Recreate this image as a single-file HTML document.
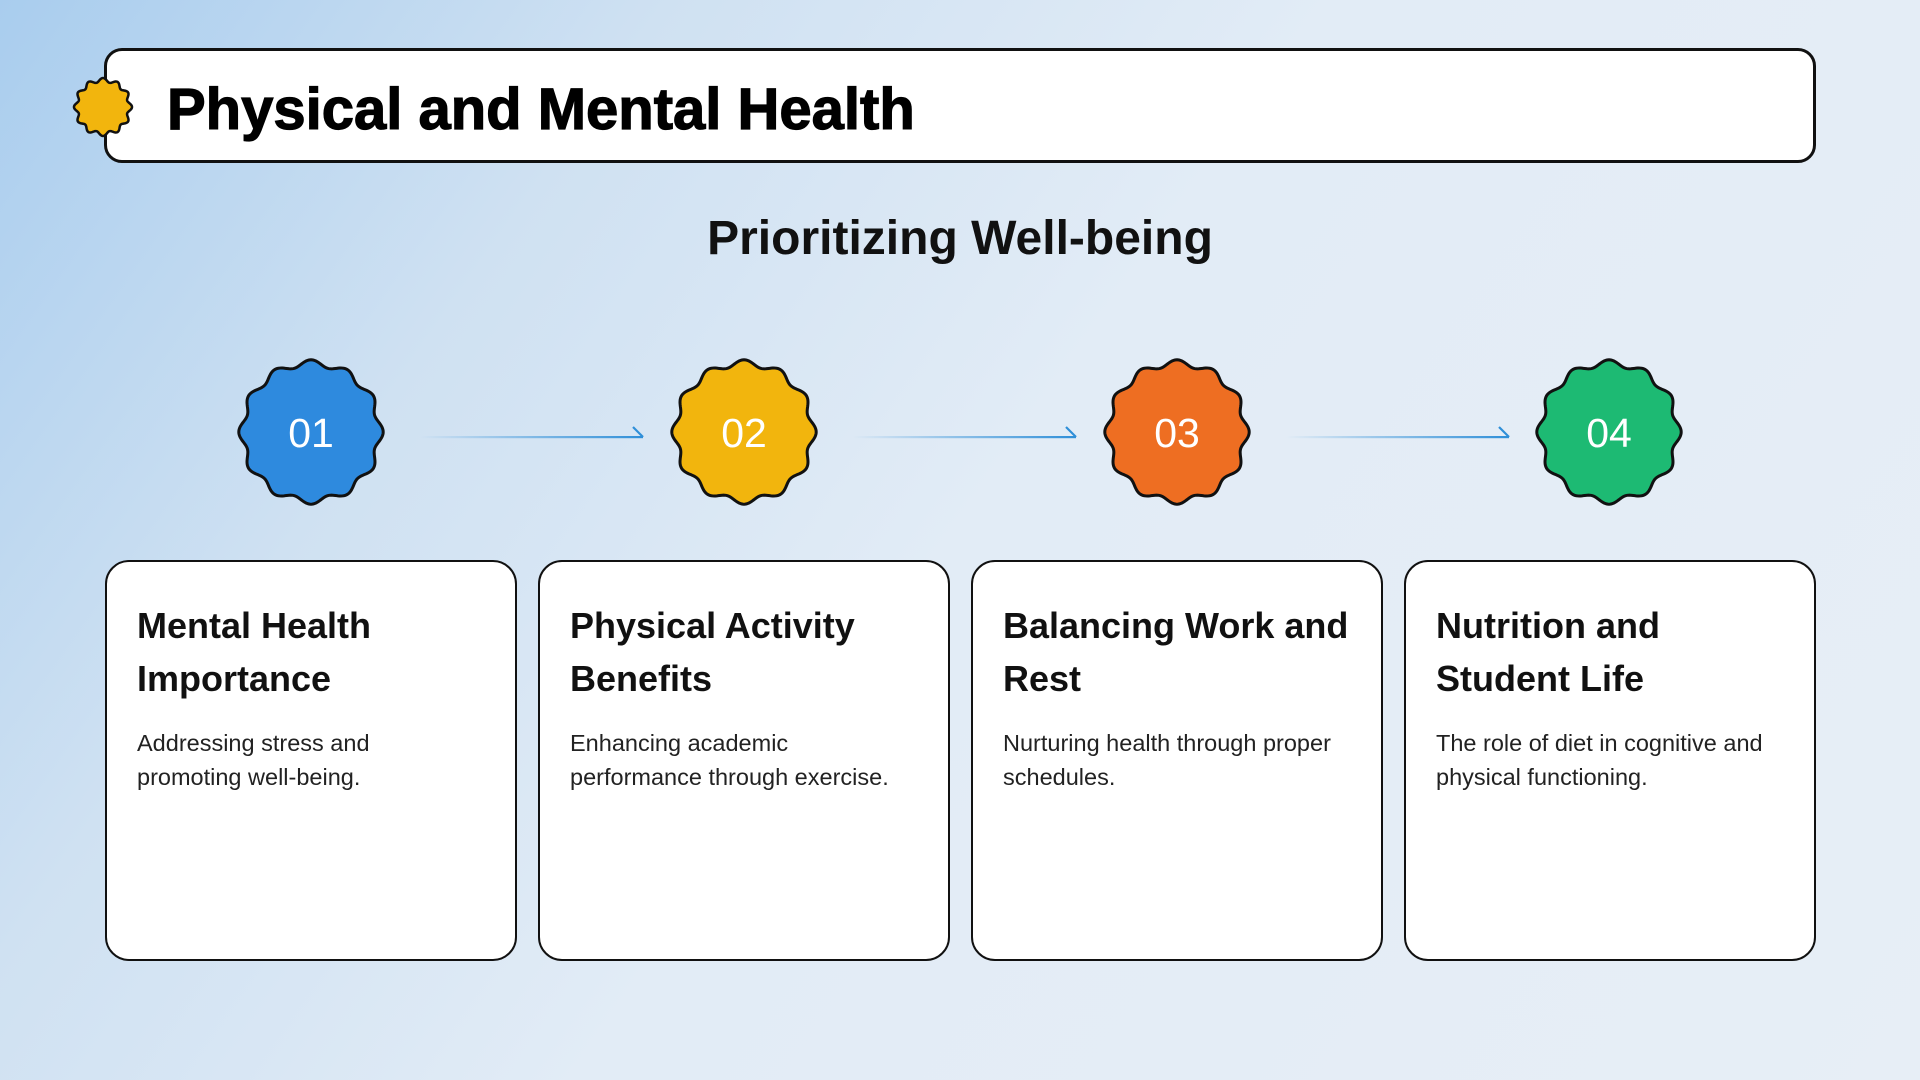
<!DOCTYPE html>
<html><head><meta charset="utf-8"><style>
html,body{margin:0;padding:0}
body{width:1920px;height:1080px;position:relative;overflow:hidden;font-family:"Liberation Sans",sans-serif;
background:linear-gradient(125deg,#a9cdee 0%,#cfe1f2 25%,#e2ecf6 50%,#e7eef6 100%);}
.hdr{position:absolute;left:104px;top:48px;width:1712px;height:115px;background:#fff;border:3px solid #111;border-radius:18px;box-sizing:border-box}
.ttl{position:absolute;left:167px;top:76px;font-size:58px;font-weight:bold;color:#000;-webkit-text-stroke:1.2px #000;letter-spacing:0px}
.sub{position:absolute;left:0;width:1920px;text-align:center;top:211px;font-size:48px;font-weight:bold;color:#111}
.card{position:absolute;top:560px;width:412px;height:401px;background:#fff;border:2.5px solid #111;border-radius:24px;box-sizing:border-box}
.card h3{position:absolute;left:30px;top:37px;margin:0;font-size:36px;line-height:53px;font-weight:bold;color:#111}
.card p{position:absolute;left:30px;top:164px;margin:0;font-size:23.5px;line-height:34px;color:#222}
svg{position:absolute;left:0;top:0}
</style></head><body>
<div class="hdr"></div>
<div class="ttl">Physical and Mental Health</div>
<div class="sub">Prioritizing Well-being</div>
<div class="card" style="left:105px"><h3>Mental Health<br>Importance</h3><p>Addressing stress and<br>promoting well-being.</p></div>
<div class="card" style="left:538px"><h3>Physical Activity<br>Benefits</h3><p>Enhancing academic<br>performance through exercise.</p></div>
<div class="card" style="left:971px"><h3>Balancing Work and<br>Rest</h3><p>Nurturing health through proper<br>schedules.</p></div>
<div class="card" style="left:1404px"><h3>Nutrition and<br>Student Life</h3><p>The role of diet in cognitive and<br>physical functioning.</p></div>
<svg width="1920" height="1080" id="s">
<defs>
<linearGradient id="ag" x1="0" x2="1" y1="0" y2="0"><stop offset="0" stop-color="#2f8fd8" stop-opacity="0"/><stop offset="1" stop-color="#2f8fd8"/></linearGradient>
</defs>
<g fill="url(#ag)">
<rect x="420" y="436" width="223" height="2.2"/>
<rect x="853" y="436" width="223" height="2.2"/>
<rect x="1286" y="436" width="223" height="2.2"/>
</g>
<g stroke="#2f8fd8" stroke-width="2.2" fill="none">
<path d="M633 427 L643 437"/><path d="M1066 427 L1076 437"/><path d="M1499 427 L1509 437"/>
</g>
<g id="badges"></g>
<g font-family="Liberation Sans, sans-serif" font-size="41" fill="#fff" text-anchor="middle">
<text x="311" y="447">01</text><text x="744" y="447">02</text><text x="1177" y="447">03</text><text x="1609" y="447">04</text>
</g>
</svg>
<script>
function wavy(cx,cy,R,a,n){let d='';for(let i=0;i<=360;i++){let t=i/360*2*Math.PI;let r=R+a*Math.cos(n*t);let x=cx+r*Math.sin(t),y=cy-r*Math.cos(t);d+=(i?'L':'M')+x.toFixed(2)+' '+y.toFixed(2);}return d+'Z';}
const ns='http://www.w3.org/2000/svg';
const B=document.getElementById('badges');
function add(cx,cy,R,a,fill,sw){let p=document.createElementNS(ns,'path');p.setAttribute('d',wavy(cx,cy,R,a,12));p.setAttribute('fill',fill);p.setAttribute('stroke','#111');p.setAttribute('stroke-width',sw);B.appendChild(p);}
add(103,107,27,2,'#f2b50d',2.5);
[[311,'#2e8ade'],[744,'#f2b50d'],[1177,'#ee6e22'],[1609,'#1dba73']].forEach(b=>add(b[0],432,69,3.2,b[1],3));
</script>
</body></html>
